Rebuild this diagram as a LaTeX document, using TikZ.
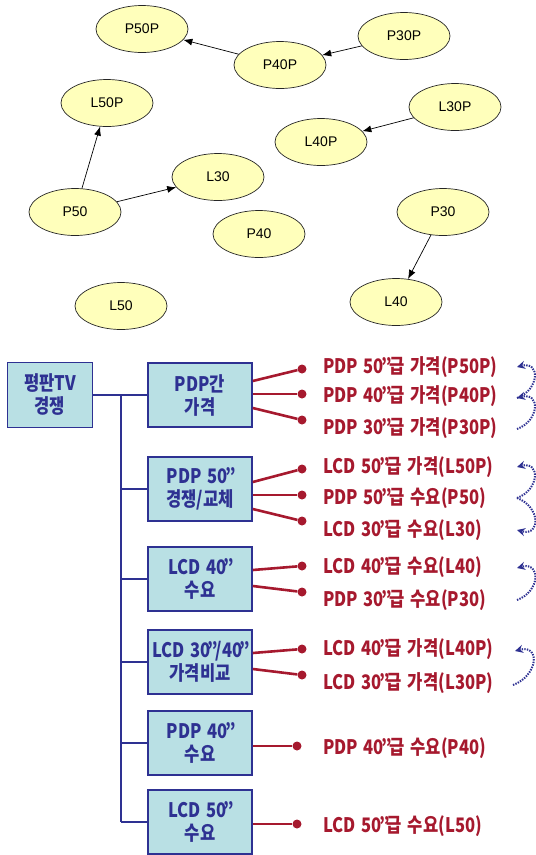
\documentclass[tikz,border=0pt]{standalone}
\usepackage{fontspec}
\usetikzlibrary{arrows.meta,shapes.geometric}
\newfontfamily\krfont{Noto Sans CJK KR}[FakeStretch=0.83,WordSpace=1.5]
\newfontfamily\netfont{Liberation Sans}
\definecolor{netfill}{HTML}{FFFFBB}
\definecolor{boxfill}{HTML}{B9E0E4}
\definecolor{boxblue}{HTML}{2E3192}
\definecolor{labred}{HTML}{A6192E}
\newcommand\inch{\kern-2.5pt”\kern-2.5pt}

\begin{document}
\begin{tikzpicture}[x=1pt,y=-1pt,
    var/.style={ellipse, draw=black!85, line width=0.7pt, fill=netfill, minimum width=92pt,
        minimum height=47pt, inner sep=0pt, font=\netfont\fontsize{14}{16}\selectfont},
    link/.style={-{Latex[length=9pt,width=7pt]}, line width=0.7pt},
    grp/.style={draw=boxblue, line width=1.6pt, fill=boxfill, text=boxblue, minimum width=104pt,
        minimum height=64pt, align=center, inner sep=1pt, font=\krfont\bfseries\fontsize{20}{23}\selectfont},
    tree/.style={draw=boxblue, line width=2.6pt},
    twig/.style={draw=boxblue, line width=1.8pt},
    wire/.style={draw=labred, line width=2.6pt},
    dot/.style={circle, fill=labred, inner sep=0pt, minimum size=9pt},
    lab/.style={anchor=west, text=labred, inner sep=0pt, font=\krfont\bfseries\fontsize{20}{23}\selectfont},
    dep/.style={draw=boxblue, line width=2pt, dash pattern=on 1.4pt off 1.2pt, -{Stealth[length=8pt,width=8pt]}}]
    \useasboundingbox (0,0) rectangle (536,855);

    % network
    \node[var] (P50P) at (142,29) {P50P};
    \node[var] (P40P) at (280,65) {P40P};
    \node[var] (P30P) at (404,36) {P30P};
    \node[var] (L50P) at (107,103) {L50P};
    \node[var] (L30P) at (455,107) {L30P};
    \node[var] (L40P) at (321,142) {L40P};
    \node[var] (L30) at (218,177) {L30};
    \node[var] (P50) at (75,212) {P50};
    \node[var] (P40) at (259,234) {P40};
    \node[var] (P30) at (443,212) {P30};
    \node[var] (L50) at (121,306) {L50};
    \node[var] (L40) at (396,302) {L40};
    \draw[link] (P40P) -- (P50P);
    \draw[link] (P30P) -- (P40P);
    \draw[link] (P50) -- (L50P);
    \draw[link] (P50) -- (L30);
    \draw[link] (L30P) -- (L40P);
    \draw[link] (P30) -- (L40);

    % tree
    \node[grp, minimum width=85pt, minimum height=65pt] (tv) at (50,395) {평판TV\\경쟁};
    \node[grp] (b1) at (200,395) {PDP간\\가격};
    \node[grp] (b2) at (200,489) {PDP 50\inch{}\\경쟁/교체};
    \node[grp] (b3) at (200,579) {LCD 40\inch{}\\수요};
    \node[grp] (b4) at (200,662) {LCD 30\inch{}/40\inch{}\\가격비교};
    \node[grp] (b5) at (200,743) {PDP 40\inch{}\\수요};
    \node[grp] (b6) at (200,822) {LCD 50\inch{}\\수요};
    \coordinate (top) at (121,395);
    \coordinate (bot) at (121,822);
    \draw[tree] (tv.east) -- (top) -- (bot);
    \foreach \b in {b1,b2,b3,b4,b5,b6}
        \draw[twig] (top |- \b.west) -- (\b.west);

    % PDP prices
    \node[dot] (d1) at (302,369) {};
    \node[dot] (d2) at (302,394) {};
    \node[dot] (d3) at (302,420) {};
    \draw[wire] ([yshift=14pt]b1.east) -- (d1);
    \draw[wire] ([yshift=1pt]b1.east) -- (d2);
    \draw[wire] ([yshift=-13pt]b1.east) -- (d3);
    \node[lab] (t1) at (323,367) {PDP 50\inch{}급 가격(P50P)};
    \node[lab] (t2) at (323,396) {PDP 40\inch{}급 가격(P40P)};
    \node[lab] (t3) at (323,428) {PDP 30\inch{}급 가격(P30P)};
    % PDP 50 substitution
    \node[dot] (d4) at (302,469) {};
    \node[dot] (d5) at (302,495) {};
    \node[dot] (d6) at (302,521) {};
    \draw[wire] ([yshift=7pt]b2.east) -- (d4);
    \draw[wire] ([yshift=-6pt]b2.east) -- (d5);
    \draw[wire] ([yshift=-20pt]b2.east) -- (d6);
    \node[lab] (t4) at (323,467) {LCD 50\inch{}급 가격(L50P)};
    \node[lab] (t5) at (323,498) {PDP 50\inch{}급 수요(P50)};
    \node[lab] (t6) at (323,530) {LCD 30\inch{}급 수요(L30)};
    % LCD 40 demand
    \node[dot] (d7) at (302,566) {};
    \node[dot] (d8) at (302,592) {};
    \draw[wire] ([yshift=9pt]b3.east) -- (d7);
    \draw[wire] ([yshift=-7pt]b3.east) -- (d8);
    \node[lab] (t7) at (323,567) {LCD 40\inch{}급 수요(L40)};
    \node[lab] (t8) at (323,600) {PDP 30\inch{}급 수요(P30)};
    % LCD price comparison
    \node[dot] (d9) at (302,649) {};
    \node[dot] (d10) at (302,675) {};
    \draw[wire] ([yshift=9pt]b4.east) -- (d9);
    \draw[wire] ([yshift=-7pt]b4.east) -- (d10);
    \node[lab] (t9) at (323,649) {LCD 40\inch{}급 가격(L40P)};
    \node[lab] (t10) at (323,683) {LCD 30\inch{}급 가격(L30P)};
    % single demands
    \node[dot] (d11) at (297,746) {};
    \node[dot] (d12) at (297,824) {};
    \draw[wire] ([yshift=-3pt]b5.east) -- (d11);
    \draw[wire] ([yshift=-2pt]b6.east) -- (d12);
    \node[lab] (t11) at (323,748) {PDP 40\inch{}급 수요(P40)};
    \node[lab] (t12) at (323,826) {LCD 50\inch{}급 수요(L50)};

    % dependencies
    \coordinate (a1) at (517,367);
    \coordinate (a2) at (517,398);
    \coordinate (a3) at (517,429);
    \coordinate (c1) at (517,467);
    \coordinate (c2) at (517,498);
    \coordinate (c3) at (517,530);
    \coordinate (e1) at (517,568);
    \coordinate (e2) at (517,600);
    \coordinate (f1) at (515,651);
    \coordinate (f2) at (513,685);
    \draw[dep] (a3) to[out=20,in=15,looseness=2] (a2);
    \draw[dep] (a2) to[out=20,in=15,looseness=2] (a1);
    \draw[dep] (c2) to[out=20,in=15,looseness=2] (c1);
    \draw[dep] (c2) to[out=-20,in=-15,looseness=2] (c3);
    \draw[dep] (e2) to[out=20,in=15,looseness=2] (e1);
    \draw[dep] (f2) to[out=20,in=15,looseness=2] (f1);
\end{tikzpicture}
\end{document}
